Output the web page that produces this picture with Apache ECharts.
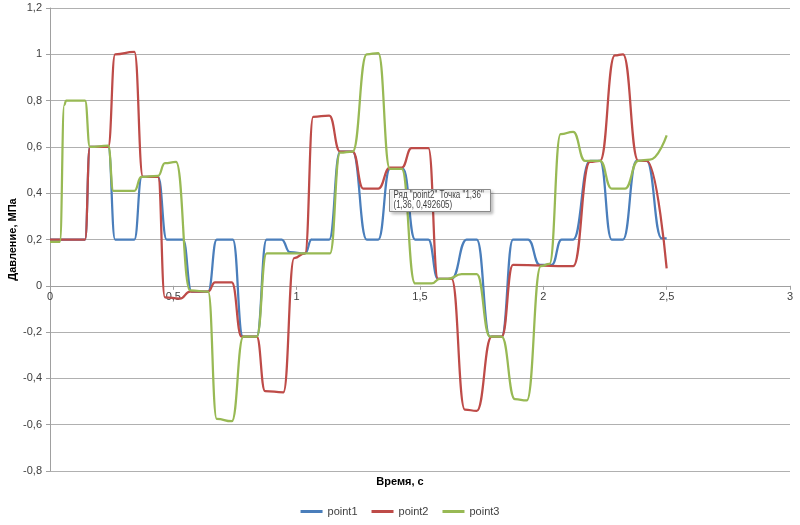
<!DOCTYPE html>
<html>
<head>
<meta charset="utf-8">
<script src="https://cdn.jsdelivr.net/npm/echarts@6/dist/echarts.min.js"></script>
<style>html,body{margin:0;padding:0;background:#fff}#c{width:800px;height:525px}</style>
</head>
<body>
<div id="c"></div>
<script>
// Time (s) breakpoints and pressure (MPa) values
const seriesNames = ['point1', 'point2', 'point3'];

const t1 = [0, 0.142, 0.162, 0.236, 0.264, 0.342, 0.372, 0.438, 0.473, 0.539, 0.574, 0.641, 0.676, 0.741, 0.782, 0.838, 0.878, 0.939, 0.973, 1.034, 1.061, 1.132, 1.176, 1.227, 1.284, 1.331, 1.378, 1.431, 1.48, 1.534, 1.573, 1.628, 1.689, 1.730, 1.784, 1.831, 1.877, 1.938, 1.986, 2.034, 2.074, 2.121, 2.189, 2.23, 2.277, 2.323, 2.378, 2.419, 2.48, 2.5];
const v1 = [0.2, 0.2, 0.6, 0.6, 0.2, 0.2, 0.47, 0.47, 0.2, 0.2, -0.025, -0.025, 0.2, 0.2, -0.22, -0.22, 0.2, 0.2, 0.145, 0.14, 0.2, 0.2, 0.58, 0.58, 0.2, 0.2, 0.505, 0.505, 0.2, 0.2, 0.03, 0.03, 0.2, 0.2, -0.22, -0.22, 0.2, 0.2, 0.09, 0.09, 0.2, 0.2, 0.54, 0.54, 0.2, 0.2, 0.54, 0.54, 0.205, 0.205];

const t2 = [0, 0.142, 0.162, 0.236, 0.264, 0.342, 0.377, 0.438, 0.466, 0.527, 0.568, 0.641, 0.669, 0.737, 0.777, 0.838, 0.872, 0.946, 0.99, 1.034, 1.067, 1.132, 1.176, 1.227, 1.27, 1.331, 1.378, 1.426, 1.466, 1.534, 1.573, 1.628, 1.682, 1.730, 1.791, 1.831, 1.877, 2.121, 2.189, 2.23, 2.29, 2.323, 2.385, 2.419, 2.5];
const v2 = [0.2, 0.2, 0.6, 0.6, 1.0, 1.01, 0.47, 0.47, -0.05, -0.055, -0.025, -0.025, 0.015, 0.015, -0.22, -0.22, -0.455, -0.46, 0.12, 0.14, 0.73, 0.735, 0.58, 0.58, 0.42, 0.42, 0.51, 0.51, 0.595, 0.595, 0.03, 0.03, -0.535, -0.54, -0.22, -0.22, 0.09, 0.085, 0.535, 0.54, 0.995, 1.0, 0.54, 0.54, 0.075];

const t3 = [0, 0.04, 0.058, 0.065, 0.142, 0.162, 0.236, 0.257, 0.342, 0.37, 0.438, 0.466, 0.511, 0.568, 0.641, 0.676, 0.737, 0.784, 0.838, 0.878, 1.135, 1.176, 1.227, 1.284, 1.331, 1.378, 1.426, 1.48, 1.547, 1.58, 1.613, 1.669, 1.730, 1.784, 1.831, 1.885, 1.933, 1.99, 2.025, 2.07, 2.121, 2.169, 2.23, 2.277, 2.331, 2.385, 2.432, 2.5];
const v3 = [0.19, 0.19, 0.78, 0.8, 0.8, 0.6, 0.605, 0.41, 0.41, 0.47, 0.475, 0.53, 0.535, -0.02, -0.025, -0.575, -0.585, -0.22, -0.22, 0.14, 0.14, 0.575, 0.58, 1.0, 1.005, 0.505, 0.505, 0.01, 0.01, 0.03, 0.03, 0.05, 0.05, -0.22, -0.22, -0.49, -0.495, 0.085, 0.095, 0.655, 0.665, 0.54, 0.54, 0.42, 0.42, 0.54, 0.545, 0.65];

const xTicks = { min: 0, max: 3, step: 0.5 };
const yTicks = { min: -0.8, max: 1.2, step: 0.2 };

const colors = ['#4A7EBB', '#BE4B48', '#98B954'];
const times = [t1, t2, t3];
const vals = [v1, v2, v3];

const comma = v => String(Math.round(v * 1000) / 1000).replace('.', ',');
const font = 'Liberation Sans, Arial, sans-serif';

// layout
const gridTop = 8, gridBottom = 54, H = 525;
const plotH = H - gridTop - gridBottom;
const zeroOffset = -plotH * (0 - yTicks.min) / (yTicks.max - yTicks.min); // lift x axis to y=0

const chart = echarts.init(document.getElementById('c'), null, { renderer: 'canvas' });
chart.setOption({
  animation: false,
  backgroundColor: '#fff',
  color: colors,
  grid: { left: 50, right: 10, top: gridTop, bottom: gridBottom, containLabel: false, outerBoundsMode: 'none' },
  xAxis: {
    type: 'value', min: xTicks.min, max: xTicks.max, interval: xTicks.step,
    position: 'bottom', offset: zeroOffset,
    axisLine: { onZero: false, lineStyle: { color: '#A0A0A0', width: 1 } },
    axisTick: { show: true, length: 4, lineStyle: { color: '#A0A0A0' } },
    axisLabel: { color: '#404040', fontFamily: font, fontSize: 11, margin: 6, formatter: comma, hideOverlap: false },
    splitLine: { show: false }
  },
  yAxis: {
    type: 'value', min: yTicks.min, max: yTicks.max, interval: yTicks.step,
    name: 'Давление, МПа', nameLocation: 'middle', nameGap: 32, nameRotate: 90, nameMoveOverlap: false,
    nameTextStyle: { color: '#000', fontFamily: font, fontSize: 11, fontWeight: 'bold' },
    axisLine: { show: true, onZero: false, lineStyle: { color: '#A0A0A0', width: 1 } },
    axisTick: { show: true, length: 4, lineStyle: { color: '#A0A0A0' } },
    axisLabel: { color: '#404040', fontFamily: font, fontSize: 11, margin: 8, formatter: comma },
    splitLine: { show: true, lineStyle: { color: '#B0B0B0', width: 1 } }
  },
  legend: {
    bottom: 3, left: 'center', itemWidth: 22, itemHeight: 3, itemGap: 14, icon: 'rect',
    textStyle: { color: '#404040', fontFamily: font, fontSize: 11 },
    data: seriesNames
  },
  graphic: [
    { type: 'text', left: 'center', top: 476, z: 100,
      style: { text: 'Время, с', fill: '#000', font: 'bold 11px ' + font } },
    { type: 'group', left: 389, top: 189, z: 100, children: [
      { type: 'rect', z: 100, shape: { x: 0, y: 0, width: 101, height: 22 },
        style: { fill: '#fff', stroke: '#8A8A8A', lineWidth: 1, shadowBlur: 3, shadowOffsetX: 2, shadowOffsetY: 2, shadowColor: 'rgba(0,0,0,0.25)' } },
      { type: 'text', z: 101, x: 4, y: 1, scaleX: 0.8,
        style: { text: 'Ряд "point2" Точка "1,36"\n(1,36, 0,492605)', fill: '#404040', font: '10px "Liberation Sans", sans-serif', lineHeight: 10 } }
    ] }
  ],
  series: seriesNames.map((n, i) => ({
    name: n, type: 'line', showSymbol: false, symbol: 'none',
    smooth: 0.5, smoothMonotone: 'x',
    lineStyle: { width: 2.25, color: colors[i] },
    itemStyle: { color: colors[i] },
    data: times[i].map((t, k) => [t, vals[i][k]])
  }))
});
</script>
</body>
</html>
